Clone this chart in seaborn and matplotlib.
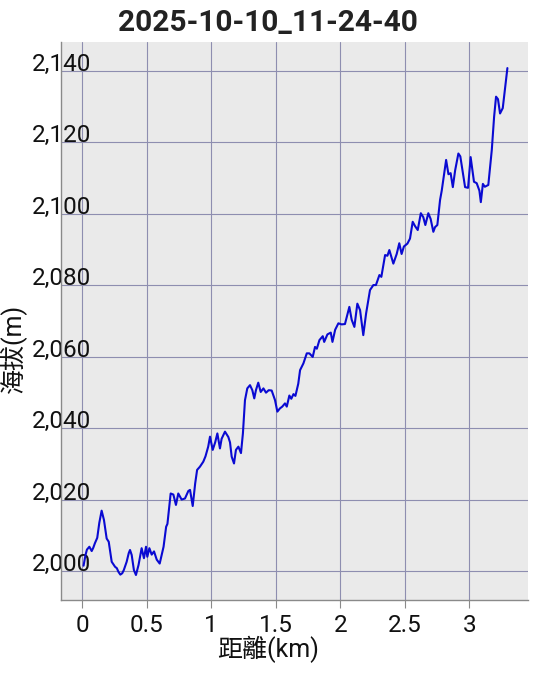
import matplotlib
matplotlib.use("Agg")
import matplotlib.pyplot as plt
import matplotlib.ticker as mticker
import pandas as pd
import seaborn as sns

# distance (km) and elevation (m)
dist_km = [
    0.010, 0.025, 0.036, 0.055, 0.073, 0.085, 0.098, 0.116, 0.132, 0.150,
    0.168, 0.189, 0.205, 0.228, 0.254, 0.268, 0.280, 0.295, 0.310, 0.322,
    0.344, 0.360, 0.370, 0.383, 0.400, 0.416, 0.436, 0.460, 0.478, 0.494,
    0.504, 0.520, 0.538, 0.556, 0.577, 0.600, 0.630, 0.650, 0.660, 0.685,
    0.706, 0.726, 0.744, 0.770, 0.796, 0.822, 0.835, 0.856, 0.875, 0.890,
    0.912, 0.938, 0.955, 0.976, 0.990, 1.011, 1.030, 1.047, 1.067, 1.080,
    1.106, 1.132, 1.145, 1.158, 1.176, 1.191, 1.210, 1.230, 1.245, 1.261,
    1.279, 1.300, 1.318, 1.333, 1.346, 1.364, 1.383, 1.404, 1.424, 1.445,
    1.468, 1.494, 1.512, 1.532, 1.550, 1.571, 1.585, 1.605, 1.620, 1.637,
    1.652, 1.674, 1.688, 1.714, 1.740, 1.760, 1.786, 1.804, 1.818, 1.838,
    1.864, 1.875, 1.900, 1.926, 1.939, 1.960, 1.985, 2.010, 2.036, 2.070,
    2.088, 2.109, 2.132, 2.153, 2.178, 2.200, 2.230, 2.256, 2.276, 2.303,
    2.318, 2.347, 2.365, 2.380, 2.411, 2.437, 2.457, 2.475, 2.493, 2.520,
    2.540, 2.561, 2.579, 2.600, 2.624, 2.643, 2.659, 2.682, 2.700, 2.721,
    2.734, 2.752, 2.773, 2.786, 2.820, 2.838, 2.855, 2.872, 2.890, 2.915,
    2.930, 2.967, 2.990, 3.010, 3.036, 3.057, 3.078, 3.089, 3.105, 3.120,
    3.147, 3.174, 3.192, 3.207, 3.222, 3.238, 3.259, 3.277, 3.295,
]
elev_m = [
    2001.5, 2004.5, 2006.0, 2006.8, 2005.6, 2006.5, 2007.8, 2009.3, 2013.5, 2016.9,
    2014.3, 2009.1, 2008.2, 2002.6, 2001.2, 2000.8, 1999.8, 1999.0, 1999.4, 2000.3,
    2002.6, 2005.0, 2005.9, 2004.5, 2000.3, 1998.9, 2001.7, 2006.4, 2003.6, 2006.8,
    2004.0, 2006.4, 2004.6, 2005.5, 2003.2, 2002.1, 2006.8, 2012.4, 2013.2, 2021.7,
    2021.4, 2018.5, 2021.7, 2020.0, 2020.3, 2022.4, 2022.7, 2018.2, 2024.5, 2028.3,
    2029.2, 2030.6, 2032.1, 2034.8, 2037.6, 2033.9, 2036.0, 2038.5, 2034.3, 2037.0,
    2039.0, 2037.5, 2036.0, 2032.0, 2030.1, 2033.9, 2034.8, 2033.0, 2038.5, 2047.8,
    2051.1, 2052.0, 2050.6, 2048.3, 2050.6, 2052.7, 2050.1, 2051.1, 2049.9, 2050.6,
    2050.5, 2047.8, 2044.6, 2045.5, 2046.0, 2046.9, 2046.0, 2049.1, 2048.2, 2049.5,
    2049.0, 2052.4, 2056.2, 2058.1, 2060.9, 2060.9, 2059.9, 2062.7, 2062.2, 2064.6,
    2065.7, 2064.1, 2066.2, 2066.7, 2064.1, 2067.5, 2069.3, 2069.0, 2069.1, 2073.9,
    2070.3, 2068.3, 2074.8, 2073.0, 2066.0, 2072.1, 2078.6, 2080.0, 2080.0, 2082.8,
    2082.3, 2088.4, 2088.2, 2089.8, 2086.0, 2088.7, 2091.7, 2088.7, 2090.8, 2091.6,
    2093.0, 2097.7, 2096.5, 2095.4, 2100.1, 2099.0, 2096.8, 2100.1, 2098.5, 2094.9,
    2096.2, 2096.8, 2103.8, 2106.4, 2115.0, 2111.0, 2111.3, 2107.4, 2112.1, 2116.8,
    2116.0, 2107.4, 2107.2, 2115.8, 2108.9, 2108.5, 2106.4, 2103.2, 2108.3, 2107.5,
    2108.0, 2117.8, 2127.1, 2132.7, 2132.0, 2128.0, 2129.5, 2135.2, 2140.7,
]

x_ticks = [0, 0.5, 1, 1.5, 2, 2.5, 3]
x_tick_labels = ["0", "0.5", "1", "1.5", "2", "2.5", "3"]
y_ticks = [2000, 2020, 2040, 2060, 2080, 2100, 2120, 2140]

title = "2025-10-10_11-24-40"
x_label = "距離(km)"
y_label = "海拔(m)"

sns.set_style("darkgrid", {
    "axes.facecolor": "#eaeaea",
    "grid.color": "#8e8eb0",
    "axes.edgecolor": "#8a8a8a",
})
plt.rcParams["font.family"] = ["Roboto", "Noto Sans CJK TC", "DejaVu Sans"]

df = pd.DataFrame({"dist": dist_km, "elev": elev_m})

fig = plt.figure(figsize=(5.35, 6.77), dpi=100)
ax = fig.add_axes([0.114, 0.1137, 0.873, 0.8243])

sns.lineplot(data=df, x="dist", y="elev", color="#0a0ad2", linewidth=1.5, ax=ax)

ax.set_xlim(-0.165, 3.455)
ax.set_ylim(1991.9, 2148.0)
ax.set_xticks(x_ticks)
ax.set_xticklabels(x_tick_labels)
ax.set_yticks(y_ticks)
ax.yaxis.set_major_formatter(mticker.StrMethodFormatter("{x:,.0f}"))
ax.grid(True, color="#8e8eb0", linewidth=0.8)

for side in ["top", "right"]:
    ax.spines[side].set_visible(False)
for side in ["left", "bottom"]:
    ax.spines[side].set_visible(True)
    ax.spines[side].set_linewidth(1.0)

ax.tick_params(axis="x", length=6, width=0.8, color="#8a8a8a", pad=4,
               labelsize=17.5, labelcolor="#111111", bottom=True)
ax.tick_params(axis="y", length=0, pad=-21.5, labelsize=17.5, labelcolor="#111111")
for lbl in ax.get_yticklabels():
    lbl.set_va("baseline")

ax.set_xlabel(x_label, fontsize=18, color="#111111")
ax.set_ylabel(y_label, fontsize=18, color="#111111")
ax.xaxis.set_label_coords(0.443, -0.064)
ax.yaxis.set_label_coords(-0.072, 0.45)

fig.suptitle(title, fontsize=21.5, fontweight="bold", color="#222222", x=0.5, y=0.987)

fig.savefig("out.png", dpi=100)
